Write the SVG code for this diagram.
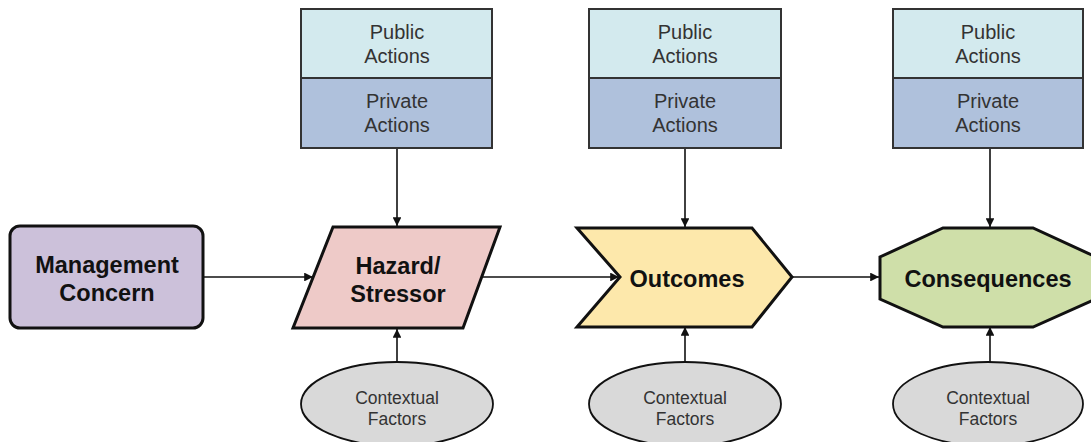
<svg xmlns="http://www.w3.org/2000/svg" width="1091" height="442" viewBox="0 0 1091 442">
<style>
.main{stroke:#111;stroke-width:3;stroke-linejoin:miter}
.pub{fill:#d3eaee;stroke:#333;stroke-width:2}
.priv{fill:#afc1dc;stroke:#333;stroke-width:2}
.ctx{fill:#d9d9d9;stroke:#111;stroke-width:1.8}
.conn{stroke:#111;stroke-width:1.6;fill:none;marker-end:url(#ah)}
.big{font-family:"Liberation Sans",Arial,sans-serif;font-weight:bold;font-size:23.5px;fill:#111;text-anchor:middle}
.act{font-family:"Liberation Sans",Arial,sans-serif;font-size:20px;fill:#333;text-anchor:middle}
.ct{font-family:"Liberation Sans",Arial,sans-serif;font-size:17.5px;fill:#333;text-anchor:middle}
</style>
<defs>
<marker id="ah" viewBox="0 0 10 10" refX="10" refY="5" markerWidth="5.5" markerHeight="5.5" orient="auto" markerUnits="strokeWidth">
<path d="M0,0 L10,5 L0,10 z" fill="#111"/>
</marker>
</defs>
<rect width="1091" height="442" fill="#fff"/>

<g id="connectors">
<line class="conn" x1="203" y1="277" x2="313" y2="277"/>
<line class="conn" x1="482" y1="277" x2="619" y2="277"/>
<line class="conn" x1="792" y1="277" x2="879" y2="277"/>
<line class="conn" x1="397" y1="148" x2="397" y2="226"/>
<line class="conn" x1="685" y1="148" x2="685" y2="227"/>
<line class="conn" x1="990" y1="148" x2="990" y2="227"/>
<line class="conn" x1="397" y1="362" x2="397" y2="329"/>
<line class="conn" x1="685" y1="362" x2="685" y2="327"/>
<line class="conn" x1="990" y1="362" x2="990" y2="327"/>
</g>

<g id="management">
<rect class="main" x="10" y="226" width="193" height="102" rx="10" fill="#ccc1da"/>
<text class="big" x="107" y="273">Management</text>
<text class="big" x="107" y="301">Concern</text>
</g>

<g id="hazard">
<polygon class="main" points="333,227 500,227 463,328 293,328" fill="#eecac8"/>
<text class="big" x="398" y="274">Hazard/</text>
<text class="big" x="398" y="302">Stressor</text>
</g>

<g id="outcomes">
<polygon class="main" points="577,228 752,228 792,277 752,327 577,327 620,277" fill="#fde8ab"/>
<text class="big" x="687" y="287">Outcomes</text>
</g>

<g id="consequences">
<polygon class="main" points="943,228 1033,228 1096,257 1096,299 1033,327 943,327 880,299 880,257" fill="#cfdfa9"/>
<text class="big" x="988" y="287">Consequences</text>
</g>

<g id="actions1">
<rect class="pub" x="301" y="9" width="191" height="69"/>
<rect class="priv" x="301" y="78" width="191" height="70"/>
<text class="act" x="397" y="39">Public</text>
<text class="act" x="397" y="63">Actions</text>
<text class="act" x="397" y="108">Private</text>
<text class="act" x="397" y="132">Actions</text>
</g>

<g id="actions2">
<rect class="pub" x="589" y="9" width="192" height="69"/>
<rect class="priv" x="589" y="78" width="192" height="70"/>
<text class="act" x="685" y="39">Public</text>
<text class="act" x="685" y="63">Actions</text>
<text class="act" x="685" y="108">Private</text>
<text class="act" x="685" y="132">Actions</text>
</g>

<g id="actions3">
<rect class="pub" x="893" y="9" width="190" height="69"/>
<rect class="priv" x="893" y="78" width="190" height="70"/>
<text class="act" x="988" y="39">Public</text>
<text class="act" x="988" y="63">Actions</text>
<text class="act" x="988" y="108">Private</text>
<text class="act" x="988" y="132">Actions</text>
</g>

<g id="context1">
<ellipse class="ctx" cx="397" cy="404" rx="96" ry="42"/>
<text class="ct" x="397" y="404">Contextual</text>
<text class="ct" x="397" y="425">Factors</text>
</g>

<g id="context2">
<ellipse class="ctx" cx="685" cy="404" rx="96" ry="42"/>
<text class="ct" x="685" y="404">Contextual</text>
<text class="ct" x="685" y="425">Factors</text>
</g>

<g id="context3">
<ellipse class="ctx" cx="988" cy="404" rx="95" ry="42"/>
<text class="ct" x="988" y="404">Contextual</text>
<text class="ct" x="988" y="425">Factors</text>
</g>
</svg>
